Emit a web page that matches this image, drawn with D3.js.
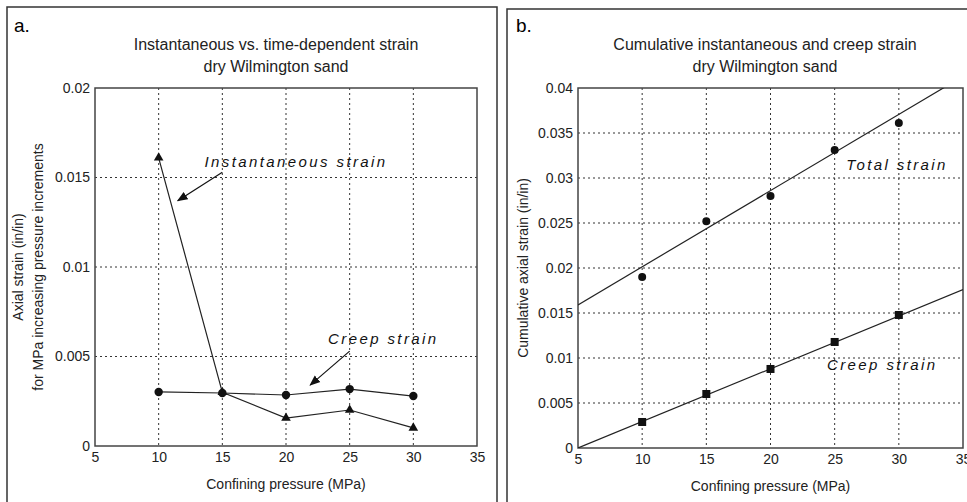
<!DOCTYPE html>
<html lang="en">
<head>
<meta charset="UTF-8">
<title>Wilmington sand strain</title>
<script src="https://d3js.org/d3.v7.min.js"></script>
<style>
  body {margin: 0; padding: 0; background: #fff; font-family: "Liberation Sans", Arial, sans-serif;}
  svg {display: block;}
  .tick text {font-size: 14px; fill: #222;}
  .grid line {stroke: #333; stroke-dasharray: 2,3; stroke-width: 1;}
  .note {font-style: italic; font-size: 15px; letter-spacing: 2.4px; fill: #111;}
</style>
</head>
<body>
<div id="chart"></div>
<script>
// panel a: increments per pressure step
const pressure = [10, 15, 20, 25, 30];
const instStrain = [0.0161, 0.0030, 0.00156, 0.00201, 0.00101];
const creepStrainA = [0.00302, 0.00296, 0.00285, 0.00318, 0.00279];
// panel b: cumulative
const totalStrain = [0.0190, 0.0252, 0.0280, 0.0331, 0.0361];
const creepStrainB = [0.00289, 0.0060, 0.00878, 0.01178, 0.01478];
// fitted lines, endpoints
const totalFit = [[5, 0.0159], [35, 0.0413]];
const creepFit = [[5, 0.0], [35, 0.0176]];

const xTicks = [5, 10, 15, 20, 25, 30, 35];
const yTicksA = [0, 0.005, 0.01, 0.015, 0.02];
const yTicksB = [0, 0.005, 0.01, 0.015, 0.02, 0.025, 0.03, 0.035, 0.04];

const W = 967, H = 502;
const svg = d3.select("#chart").append("svg").attr("width", W).attr("height", H);

const defs = svg.append("defs");
defs.append("marker").attr("id", "arrow")
  .attr("viewBox", "0 0 10 10").attr("refX", 9).attr("refY", 5)
  .attr("markerWidth", 9).attr("markerHeight", 9).attr("orient", "auto")
  .append("path").attr("d", "M0,1 L10,5 L0,9 Z").attr("fill", "#111");

// outer panel frames
svg.append("rect").attr("x", 7).attr("y", 7).attr("width", 490).attr("height", 510)
  .attr("fill", "none").attr("stroke", "#333").attr("stroke-width", 1.5);
svg.append("rect").attr("x", 507).attr("y", 9).attr("width", 480).attr("height", 510)
  .attr("fill", "none").attr("stroke", "#333").attr("stroke-width", 1.5);

function panel(opt) {
  const g = svg.append("g");
  const x = d3.scaleLinear().domain([5, 35]).range([opt.left, opt.right]);
  const y = d3.scaleLinear().domain(opt.yDomain).range([opt.bottom, opt.top]);

  g.append("text").attr("x", opt.labelX).attr("y", 32)
    .attr("font-size", 19).text(opt.label);
  opt.title.forEach((t, i) => {
    g.append("text").attr("x", opt.titleX).attr("y", 50 + i * 22)
      .attr("text-anchor", "middle").attr("font-size", 16).attr("fill", "#222").text(t);
  });

  // grid
  const grid = g.append("g").attr("class", "grid");
  grid.selectAll(".vx").data(xTicks.slice(1, -1)).join("line")
    .attr("x1", d => x(d)).attr("x2", d => x(d)).attr("y1", opt.top).attr("y2", opt.bottom);
  grid.selectAll(".hy").data(opt.yTicks.slice(1, -1)).join("line")
    .attr("x1", opt.left).attr("x2", opt.right).attr("y1", d => y(d)).attr("y2", d => y(d));

  const xa = g.append("g").attr("transform", `translate(0,${opt.bottom})`)
    .call(d3.axisBottom(x).tickValues(xTicks).tickSize(0).tickPadding(6).tickFormat(d3.format("d")));
  xa.select(".domain").remove();
  const ya = g.append("g").attr("transform", `translate(${opt.left},0)`)
    .call(d3.axisLeft(y).tickValues(opt.yTicks).tickSize(0).tickPadding(5).tickFormat(d => d === 0 ? "0" : String(+d.toFixed(3))));
  ya.select(".domain").remove();
  g.selectAll(".tick text").attr("font-family", null);

  g.append("rect").attr("x", opt.left).attr("y", opt.top)
    .attr("width", opt.right - opt.left).attr("height", opt.bottom - opt.top)
    .attr("fill", "none").attr("stroke", "#444").attr("stroke-width", 1.5);

  g.append("text").attr("x", (opt.left + opt.right) / 2).attr("y", opt.bottom + 43)
    .attr("text-anchor", "middle").attr("font-size", 14).attr("fill", "#222")
    .text("Confining pressure (MPa)");
  opt.yLabel.forEach((t, i) => {
    g.append("text")
      .attr("transform", `translate(${opt.yLabelX + i * 20},${(opt.top + opt.bottom) / 2}) rotate(-90)`)
      .attr("text-anchor", "middle").attr("font-size", 14).attr("fill", "#222").text(t);
  });
  return {g, x, y};
}

// ---------- panel a ----------
const A = panel({
  left: 95, right: 477, top: 88, bottom: 446, yDomain: [0, 0.02], yTicks: yTicksA,
  label: "a.", labelX: 14, titleX: 276,
  title: ["Instantaneous vs. time-dependent strain", "dry Wilmington sand"],
  yLabel: ["Axial strain (in/in)", "for MPa increasing pressure increments"], yLabelX: 23
});
const lineA = d3.line().x(d => A.x(d[0])).y(d => A.y(d[1]));
const instPts = pressure.map((p, i) => [p, instStrain[i]]);
const creepPtsA = pressure.map((p, i) => [p, creepStrainA[i]]);
A.g.append("path").datum(instPts).attr("d", lineA).attr("fill", "none").attr("stroke", "#222").attr("stroke-width", 1.2);
A.g.append("path").datum(creepPtsA).attr("d", lineA).attr("fill", "none").attr("stroke", "#222").attr("stroke-width", 1.2);
A.g.selectAll(".tri").data(instPts).join("path")
  .attr("transform", d => `translate(${A.x(d[0])},${A.y(d[1])})`)
  .attr("d", d3.symbol(d3.symbolTriangle, 40)).attr("fill", "#111");
A.g.selectAll(".dot").data(creepPtsA).join("circle")
  .attr("cx", d => A.x(d[0])).attr("cy", d => A.y(d[1])).attr("r", 4.2).attr("fill", "#111");

A.g.append("text").attr("class", "note").attr("x", A.x(13.6)).attr("y", A.y(0.0156)).text("Instantaneous strain");
A.g.append("line").attr("x1", A.x(15)).attr("y1", A.y(0.0153)).attr("x2", A.x(11.5)).attr("y2", A.y(0.0137))
  .attr("stroke", "#111").attr("stroke-width", 1.2).attr("marker-end", "url(#arrow)");
A.g.append("text").attr("class", "note").attr("x", A.x(23.3)).attr("y", A.y(0.0057)).text("Creep strain");
A.g.append("line").attr("x1", A.x(25)).attr("y1", A.y(0.0053)).attr("x2", A.x(21.9)).attr("y2", A.y(0.0034))
  .attr("stroke", "#111").attr("stroke-width", 1.2).attr("marker-end", "url(#arrow)");

// ---------- panel b ----------
const B = panel({
  left: 578, right: 963, top: 88, bottom: 448, yDomain: [0, 0.04], yTicks: yTicksB,
  label: "b.", labelX: 516, titleX: 765,
  title: ["Cumulative instantaneous and creep strain", "dry Wilmington sand"],
  yLabel: ["Cumulative axial strain (in/in)"], yLabelX: 528
});
defs.append("clipPath").attr("id", "clipB").append("rect")
  .attr("x", 578).attr("y", 88).attr("width", 385).attr("height", 360);
const lineB = d3.line().x(d => B.x(d[0])).y(d => B.y(d[1]));
B.g.append("path").datum(totalFit).attr("d", lineB).attr("clip-path", "url(#clipB)")
  .attr("fill", "none").attr("stroke", "#222").attr("stroke-width", 1.2);
B.g.append("path").datum(creepFit).attr("d", lineB).attr("clip-path", "url(#clipB)")
  .attr("fill", "none").attr("stroke", "#222").attr("stroke-width", 1.2);
B.g.selectAll(".dot").data(pressure.map((p, i) => [p, totalStrain[i]])).join("circle")
  .attr("cx", d => B.x(d[0])).attr("cy", d => B.y(d[1])).attr("r", 4).attr("fill", "#111");
B.g.selectAll(".sq").data(pressure.map((p, i) => [p, creepStrainB[i]])).join("rect")
  .attr("x", d => B.x(d[0]) - 4).attr("y", d => B.y(d[1]) - 4).attr("width", 8).attr("height", 8).attr("fill", "#111");
B.g.append("text").attr("class", "note").attr("x", B.x(25.9)).attr("y", B.y(0.0309)).text("Total strain");
B.g.append("text").attr("class", "note").attr("x", B.x(24.4)).attr("y", B.y(0.00867)).text("Creep strain");
</script>
</body>
</html>
